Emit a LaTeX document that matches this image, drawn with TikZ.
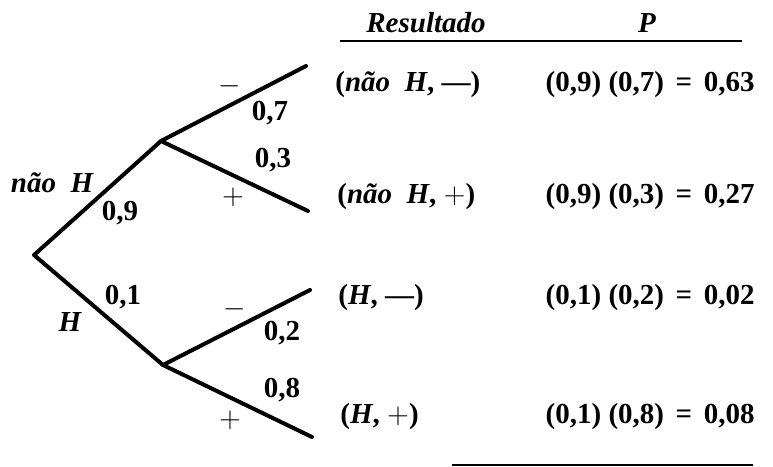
\documentclass[tikz,border=0pt]{standalone}
\usepackage{fontspec}
\setmainfont{Liberation Serif}
\usetikzlibrary{positioning}
\newcommand\corpo{\fontsize{14.5}{17}\selectfont}
\newcommand\ig{\hspace{0.4em}=\hspace{0.4em}}
\tikzset{
  ramo/.style={line width=2pt,line cap=round,line join=round},
  regua/.style={line width=1.3pt},
  rot/.style={inner sep=0pt,font=\corpo\bfseries\itshape},
  num/.style={inner sep=0pt,font=\corpo\bfseries},
  sinal/.style={inner sep=0pt,font=\corpo},
  res/.style={inner sep=0pt,anchor=west,font=\corpo\bfseries},
  prob/.style={inner sep=0pt,anchor=east,font=\corpo\bfseries},
}
\begin{document}
\begin{tikzpicture}[x=0.5pt,y=-0.5pt]
  \useasboundingbox (0,0) rectangle (773,467);
  % vertices of the tree
  \coordinate (r) at (34,255);
  \coordinate (a) at (161,141); \coordinate (b) at (163,365);
  \coordinate (a1) at (306,66); \coordinate (a2) at (308,211);
  \coordinate (b1) at (310,290); \coordinate (b2) at (312,437);
  \draw[ramo] (a1) -- (a) -- (r) -- (b) -- (b1);
  \draw[ramo] (a) -- (a2);
  \draw[ramo] (b) -- (b2);
  % first stage
  \node[rot] (naoH) at (52,183) {não\ \ H};
  \node[num] (p09) at (120,213) {0,9};
  \node[num] (p01) at (123,297) {0,1};
  \node[rot] (H) at (70,322) {H};
  % second stage
  \node[sinal] (ma) at (230,86) {$-$};
  \node[num] (p07) at (270,113) {0,7};
  \node[num] (p03) at (273,160) {0,3};
  \node[sinal] (pa) at (233,197) {$+$};
  \node[sinal] (mb) at (235,309) {$-$};
  \node[num] (p02) at (282,333) {0,2};
  \node[num] (p08) at (282,390) {0,8};
  \node[sinal] (pb) at (230,420) {$+$};
  % table
  \node[rot] (hres) at (426,23) {Resultado};
  \node[rot] (hp) at (647,23) {P};
  \coordinate (l1) at (340,41); \coordinate (l2) at (742,41);
  \draw[regua] (l1) -- (l2);
  \node[res] (r1) at (335,85) {(\textit{não\ \ H}, —)};
  \node[res] (r2) at (337,197) {(\textit{não\ \ H}, $+$)};
  \node[res] (r3) at (338,298) {(\textit{H}, —)};
  \node[res] (r4) at (340,417) {(\textit{H}, $+$)};
  \node[prob] (q1) at (755,85) {(0,9) (0,7)\ig 0,63};
  \node[prob] (q2) at (755,197) {(0,9) (0,3)\ig 0,27};
  \node[prob] (q3) at (755,298) {(0,1) (0,2)\ig 0,02};
  \node[prob] (q4) at (755,417) {(0,1) (0,8)\ig 0,08};
  \coordinate (l3) at (452,465); \coordinate (l4) at (753,465);
  \draw[regua] (l3) -- (l4);
\end{tikzpicture}
\end{document}
